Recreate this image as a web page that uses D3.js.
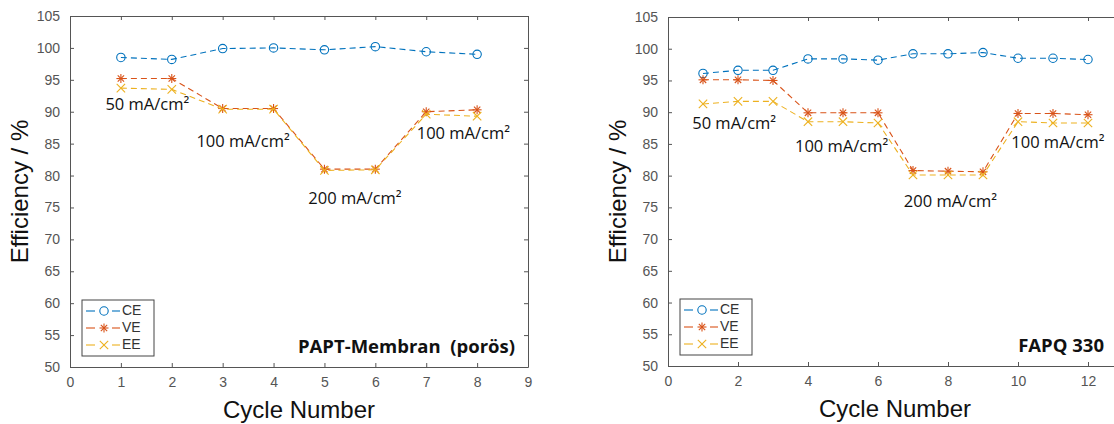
<!DOCTYPE html>
<html>
<head>
<meta charset="utf-8">
<script src="https://cdn.jsdelivr.net/npm/d3@7"></script>
<style>
  body { margin: 0; background: #fff; }
  svg { display: block; }
</style>
</head>
<body>
<div id="chart"></div>
<script>
// Values
const cyclesA = [1, 2, 3, 4, 5, 6, 7, 8];
const ceA = [98.5, 98.2, 99.9, 100.0, 99.7, 100.2, 99.4, 99.0];
const veA = [95.2, 95.2, 90.5, 90.5, 81.0, 81.0, 90.0, 90.3];
const eeA = [93.7, 93.5, 90.4, 90.4, 80.8, 80.9, 89.6, 89.3];

const cyclesB = [1, 2, 3, 4, 5, 6, 7, 8, 9, 10, 11, 12];
const ceB = [96.1, 96.6, 96.6, 98.4, 98.4, 98.2, 99.2, 99.2, 99.4, 98.5, 98.5, 98.3];
const veB = [95.1, 95.1, 95.0, 89.9, 89.9, 89.9, 80.8, 80.7, 80.6, 89.8, 89.8, 89.6];
const eeB = [91.3, 91.7, 91.7, 88.5, 88.5, 88.3, 80.1, 80.1, 80.1, 88.5, 88.3, 88.3];

const yTicks = [50, 55, 60, 65, 70, 75, 80, 85, 90, 95, 100, 105];
const xTicksA = [0, 1, 2, 3, 4, 5, 6, 7, 8, 9];
const xTicksB = [0, 2, 4, 6, 8, 10, 12];
const seriesNames = ["CE", "VE", "EE"];

const labelsA = [
  { text: "50 mA/cm²", cycle: 1.52, value: 90.9 },
  { text: "100 mA/cm²", cycle: 3.4, value: 85.1 },
  { text: "200 mA/cm²", cycle: 5.6, value: 76.2 },
  { text: "100 mA/cm²", cycle: 7.73, value: 86.4 }
];
const labelsB = [
  { text: "50 mA/cm²", cycle: 1.89, value: 88.1 },
  { text: "100 mA/cm²", cycle: 4.96, value: 84.4 },
  { text: "200 mA/cm²", cycle: 8.07, value: 75.8 },
  { text: "100 mA/cm²", cycle: 11.14, value: 85.0 }
];

const colors = { CE: "#0072BD", VE: "#D95319", EE: "#EDB120" };
const W = 1114, H = 424;

const svg = d3.select("#chart").append("svg")
  .attr("width", W)
  .attr("height", H)
  .style("font-family", "Arial, 'Liberation Sans', sans-serif");

function marker(g, name, x, y) {
  const c = colors[name];
  if (name === "CE") {
    g.append("circle").attr("cx", x).attr("cy", y).attr("r", 4.2)
      .attr("fill", "none").attr("stroke", c).attr("stroke-width", 1.1);
  } else if (name === "VE") {
    const r = 4.5;
    [0, 45, 90, 135].forEach(a => {
      const dx = r * Math.cos(a * Math.PI / 180), dy = r * Math.sin(a * Math.PI / 180);
      g.append("line").attr("x1", x - dx).attr("y1", y - dy).attr("x2", x + dx).attr("y2", y + dy)
        .attr("stroke", c).attr("stroke-width", 1.1);
    });
  } else {
    const r = 4.2;
    g.append("line").attr("x1", x - r).attr("y1", y - r).attr("x2", x + r).attr("y2", y + r)
      .attr("stroke", c).attr("stroke-width", 1.1);
    g.append("line").attr("x1", x - r).attr("y1", y + r).attr("x2", x + r).attr("y2", y - r)
      .attr("stroke", c).attr("stroke-width", 1.1);
  }
}

function panel(opt) {
  const x = d3.scaleLinear().domain(opt.xDomain).range([opt.left, opt.right]);
  const y = d3.scaleLinear().domain([50, 105]).range([opt.bottom, opt.top]);
  const g = svg.append("g");

  // box and axes (matlab style, ticks inward)
  g.append("g")
    .attr("transform", `translate(0,${opt.bottom})`)
    .call(d3.axisBottom(x).tickValues(opt.xTicks).tickSizeInner(-4).tickSizeOuter(0).tickPadding(10))
    .call(a => a.select(".domain").attr("stroke", "#555"))
    .call(a => a.selectAll(".tick line").attr("stroke", "#555"))
    .call(a => a.selectAll("text").attr("fill", "#555").style("font-size", "14px"));

  g.append("g")
    .attr("transform", `translate(${opt.left},0)`)
    .call(d3.axisLeft(y).tickValues(yTicks).tickSizeInner(-4).tickSizeOuter(0).tickPadding(10))
    .call(a => a.select(".domain").attr("stroke", "#555"))
    .call(a => a.selectAll(".tick line").attr("stroke", "#555"))
    .call(a => a.selectAll("text").attr("fill", "#555").style("font-size", "14px"));

  g.append("g")
    .attr("transform", `translate(0,${opt.top})`)
    .call(d3.axisTop(x).tickValues(opt.xTicks).tickSizeInner(-4).tickSizeOuter(0).tickFormat(""))
    .call(a => a.select(".domain").attr("stroke", "#555"))
    .call(a => a.selectAll(".tick line").attr("stroke", "#555"));

  g.append("g")
    .attr("transform", `translate(${opt.right},0)`)
    .call(d3.axisRight(y).tickValues(yTicks).tickSizeInner(-4).tickSizeOuter(0).tickFormat(""))
    .call(a => a.select(".domain").attr("stroke", "#555"))
    .call(a => a.selectAll(".tick line").attr("stroke", "#555"));

  // series
  const line = d3.line().x(d => x(d[0])).y(d => y(d[1]));
  opt.series.forEach(s => {
    const pts = opt.cycles.map((c, i) => [c, s.values[i]]);
    g.append("path").datum(pts)
      .attr("d", line)
      .attr("fill", "none")
      .attr("stroke", colors[s.name])
      .attr("stroke-width", 1.1)
      .attr("stroke-dasharray", "6 4");
    pts.forEach(p => marker(g, s.name, x(p[0]), y(p[1])));
  });

  // current density labels
  opt.labels.forEach(l => {
    g.append("text")
      .attr("x", x(l.cycle))
      .attr("y", y(l.value))
      .attr("text-anchor", "middle")
      .attr("dominant-baseline", "middle")
      .style("font-family", "'Open Sans', sans-serif")
      .style("font-size", "16.5px")
      .attr("fill", "#111")
      .text(l.text);
  });

  // membrane title
  g.append("text")
    .attr("x", opt.titleX)
    .attr("y", opt.bottom - 14)
    .attr("text-anchor", "end")
    .style("font-family", "'Open Sans', sans-serif")
    .style("font-weight", "bold")
    .style("font-size", "18.5px")
    .style("white-space", "pre")
    .attr("fill", "#111")
    .text(opt.title);

  // legend
  const lg = g.append("g").attr("transform", `translate(${opt.left + 12},${opt.bottom - 67})`);
  lg.append("rect").attr("width", 72).attr("height", 56)
    .attr("fill", "#fff").attr("stroke", "#444").attr("stroke-width", 1);
  seriesNames.forEach((n, i) => {
    const yy = 11 + i * 17;
    lg.append("line").attr("x1", 4).attr("x2", 13).attr("y1", yy).attr("y2", yy)
      .attr("stroke", colors[n]).attr("stroke-width", 1.1);
    lg.append("line").attr("x1", 30).attr("x2", 38).attr("y1", yy).attr("y2", yy)
      .attr("stroke", colors[n]).attr("stroke-width", 1.1);
    marker(lg, n, 22, yy);
    lg.append("text").attr("x", 40).attr("y", yy).attr("dominant-baseline", "middle")
      .style("font-size", "14px").attr("fill", "#333").text(n);
  });

  // axis titles
  g.append("text")
    .attr("transform", `translate(${opt.left - 42},${(opt.top + opt.bottom) / 2}) rotate(-90)`)
    .attr("text-anchor", "middle")
    .style("font-size", "24px")
    .attr("fill", "#111")
    .text("Efficiency / %");

  g.append("text")
    .attr("x", opt.xLabelX)
    .attr("y", opt.bottom + 51)
    .attr("text-anchor", "middle")
    .style("font-size", "24px")
    .attr("fill", "#111")
    .text("Cycle Number");
}

panel({
  left: 70, right: 528, top: 16, bottom: 367,
  xDomain: [0, 9], xTicks: xTicksA, cycles: cyclesA,
  series: [{ name: "CE", values: ceA }, { name: "VE", values: veA }, { name: "EE", values: eeA }],
  labels: labelsA, title: "PAPT-Membran  (porös)", titleX: 515, xLabelX: 299
});

panel({
  left: 668, right: 1123, top: 17, bottom: 366,
  xDomain: [0, 13], xTicks: xTicksB, cycles: cyclesB,
  series: [{ name: "CE", values: ceB }, { name: "VE", values: veB }, { name: "EE", values: eeB }],
  labels: labelsB, title: "FAPQ 330", titleX: 1104, xLabelX: 895
});
</script>
</body>
</html>
